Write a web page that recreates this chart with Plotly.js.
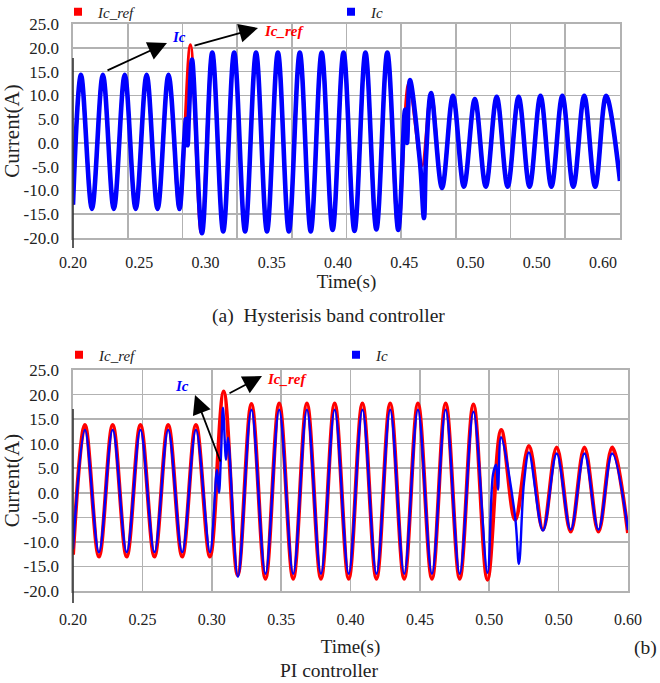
<!DOCTYPE html>
<html><head><meta charset="utf-8">
<script src="https://cdn.plot.ly/plotly-3.0.1.min.js"></script>
<style>html,body{margin:0;padding:0;background:#fff}#chart{width:660px;height:683px}</style>
</head><body><div id="chart"></div>
<script>
// ---------- data ----------
// (a) Hysteresis band controller
const hystRefTime = [0.2000,0.2073,0.2173,0.2273,0.2373,0.2473,0.2573,0.2673,0.2773,0.2873,0.2973,0.3073,0.3173,0.3273,0.3373,0.3473,0.3573,0.3673,0.3773,0.3873,0.3973,0.4073,0.4173,0.4273,0.4373,0.4473,0.4573,0.4673,0.4773,0.4873,0.4973,0.5070,0.5190,0.5273,0.5373,0.5473,0.5573,0.5673,0.5773,0.5873,0.5973,0.6073,0.6173,0.6273,0.6373,0.6473,0.6573,0.6673,0.6773,0.6873,0.7000];
const hystRefValue = [-13.0,14.3,-13.9,14.3,-13.9,14.3,-13.9,14.3,-13.9,14.3,-13.9,20.6,-19.0,19.0,-18.6,19.0,-18.6,19.0,-18.6,19.0,-18.6,19.0,-18.6,19.0,-18.3,19.0,-18.5,19.0,-18.2,19.0,-18.3,12.5,-4.8,10.5,-9.5,9.9,-9.2,9.2,-9.2,9.7,-9.2,9.7,-9.2,9.9,-9.2,9.9,-9.2,9.9,-9.2,9.9,-8.0];
const hystIcTime = [0.2000,0.2073,0.2173,0.2273,0.2373,0.2473,0.2573,0.2673,0.2773,0.2873,0.2973,0.3015,0.3033,0.3047,0.3060,0.3088,0.3179,0.3273,0.3373,0.3473,0.3573,0.3673,0.3773,0.3873,0.3973,0.4073,0.4173,0.4273,0.4373,0.4473,0.4573,0.4673,0.4773,0.4873,0.4973,0.5035,0.5053,0.5080,0.5172,0.5208,0.5227,0.5273,0.5373,0.5473,0.5573,0.5673,0.5773,0.5873,0.5973,0.6073,0.6173,0.6273,0.6373,0.6473,0.6573,0.6673,0.6773,0.6873,0.7000];
const hystIcValue = [-13.0,14.3,-13.9,14.3,-13.9,14.3,-13.9,14.3,-13.9,14.3,-13.9,0.0,5.0,-0.5,6.0,17.5,-19.0,19.0,-18.6,19.0,-18.6,19.0,-18.6,19.0,-18.6,19.0,-18.6,19.0,-18.3,19.0,-18.5,19.0,-18.2,19.0,-18.3,7.0,0.0,13.2,-4.2,-15.8,-3.0,10.5,-9.5,9.9,-9.2,9.2,-9.2,9.7,-9.2,9.7,-9.2,9.9,-9.2,9.9,-9.2,9.9,-9.2,9.9,-8.0];

// (b) PI controller
const piRefTime = [0.2000,0.2086,0.2187,0.2286,0.2387,0.2486,0.2587,0.2686,0.2787,0.2886,0.2987,0.3086,0.3187,0.3286,0.3387,0.3486,0.3587,0.3686,0.3787,0.3886,0.3987,0.4086,0.4187,0.4286,0.4387,0.4486,0.4587,0.4686,0.4787,0.4886,0.4987,0.5086,0.5187,0.5286,0.5387,0.5486,0.5587,0.5686,0.5787,0.5886,0.6000];
const piRefValue = [-12.6,13.8,-13.0,13.8,-13.0,13.8,-13.0,13.8,-13.0,13.8,-13.0,20.6,-16.8,18.1,-17.5,18.2,-17.5,18.2,-17.5,18.2,-17.5,18.2,-17.5,18.2,-17.5,18.2,-17.5,18.2,-17.5,18.0,-17.7,12.8,-5.5,9.5,-7.5,9.2,-7.9,9.2,-7.9,9.2,-8.2];
const piIcTime = [0.2000,0.2086,0.2187,0.2286,0.2387,0.2486,0.2587,0.2686,0.2787,0.2886,0.2987,0.3038,0.3052,0.3067,0.3081,0.3103,0.3117,0.3189,0.3286,0.3387,0.3486,0.3587,0.3686,0.3787,0.3886,0.3987,0.4086,0.4187,0.4286,0.4387,0.4486,0.4587,0.4686,0.4787,0.4886,0.4987,0.5027,0.5049,0.5063,0.5085,0.5186,0.5214,0.5250,0.5286,0.5387,0.5486,0.5587,0.5686,0.5787,0.5886,0.6000];
const piIcValue = [-11.5,12.8,-12.1,12.8,-12.1,12.8,-12.1,12.8,-12.1,12.8,-12.1,4.7,0.0,8.0,17.3,6.7,11.2,-17.1,16.9,-16.5,16.9,-16.5,16.9,-16.5,16.9,-16.5,16.9,-16.5,16.9,-16.5,16.9,-16.5,16.9,-16.5,16.5,-16.3,3.7,5.7,0.6,11.3,-4.8,-14.5,2.0,8.2,-7.7,8.0,-7.5,8.0,-7.5,8.0,-7.6];

// tick labels
const yTickVals = [-20,-15,-10,-5,0,5,10,15,20,25];
const yTickText = ['-20.0','-15.0','-10.0','-5.0','0.0','5.0','10.0','15.0','20.0','25.0'];
const xTickVals = [0.20,0.25,0.30,0.35,0.40,0.45,0.50,0.55,0.60];
const xTickText = ['0.20','0.25','0.30','0.35','0.40','0.45','0.50','0.50','0.60'];

// ---------- layout helpers ----------
const W = 660, H = 683;
const px = v => v / W;
const py = v => 1 - v / H;
const FONT = 'Liberation Serif';
const GRID = '#b2b2b2';
const RED = '#ff0000', BLUE = '#0000ff';
const INK = '#222';

const traces = [
  {x: hystRefTime, y: hystRefValue, xaxis: 'x', yaxis: 'y', type: 'scatter', mode: 'lines',
   line: {color: RED, width: 3.2, shape: 'spline', smoothing: 1}, name: 'Ic_ref', showlegend: false},
  {x: hystIcTime, y: hystIcValue, xaxis: 'x', yaxis: 'y', type: 'scatter', mode: 'lines',
   line: {color: BLUE, width: 4.6, shape: 'spline', smoothing: 1}, name: 'Ic', showlegend: false},
  {x: piRefTime, y: piRefValue, xaxis: 'x2', yaxis: 'y2', type: 'scatter', mode: 'lines',
   line: {color: RED, width: 4, shape: 'spline', smoothing: 1}, name: 'Ic_ref', showlegend: false},
  {x: piIcTime, y: piIcValue, xaxis: 'x2', yaxis: 'y2', type: 'scatter', mode: 'lines',
   line: {color: BLUE, width: 2.4, shape: 'spline', smoothing: 1}, name: 'Ic', showlegend: false},
  // legend entries
  {x: [null], y: [null], xaxis: 'x', yaxis: 'y', mode: 'markers', marker: {symbol: 'square', size: 8, color: RED},
   name: 'Ic_ref', legend: 'legend'},
  {x: [null], y: [null], xaxis: 'x', yaxis: 'y', mode: 'markers', marker: {symbol: 'square', size: 8, color: BLUE},
   name: 'Ic', legend: 'legend'},
  {x: [null], y: [null], xaxis: 'x2', yaxis: 'y2', mode: 'markers', marker: {symbol: 'square', size: 8, color: RED},
   name: 'Ic_ref', legend: 'legend2'},
  {x: [null], y: [null], xaxis: 'x2', yaxis: 'y2', mode: 'markers', marker: {symbol: 'square', size: 8, color: BLUE},
   name: 'Ic', legend: 'legend2'},
  // carrier for the label axis of plot (a)
  {x: [null], y: [null], xaxis: 'x3', yaxis: 'y', mode: 'markers', showlegend: false, hoverinfo: 'skip'}
];

const gridAxis = {
  showgrid: true, gridcolor: GRID, gridwidth: 1.6, zeroline: false,
  showline: true, mirror: true, linecolor: GRID, linewidth: 1.6, ticks: '', automargin: false
};
const yCommon = Object.assign({}, gridAxis, {
  range: [-20, 25], tickmode: 'array', tickvals: yTickVals, ticktext: yTickText,
  tickfont: {family: FONT, size: 17, color: INK}, ticklabelstandoff: 9,
  title: {text: 'Current(A)', font: {family: FONT, size: 21, color: INK}, standoff: 0}
});
const legendCommon = {
  orientation: 'h', xanchor: 'left', yanchor: 'middle', bgcolor: 'rgba(0,0,0,0)',
  font: {family: FONT, size: 15, color: INK, style: 'italic'},
  itemwidth: 30, entrywidthmode: 'pixels'
};
const arrowCommon = {xref: 'paper', yref: 'paper', axref: 'pixel', ayref: 'pixel', text: '', showarrow: true,
  arrowhead: 2, arrowsize: 2.1, arrowwidth: 1.8, arrowcolor: '#000', standoff: 0, startstandoff: 0};
const label = (x, y, text, color, size) => ({xref: 'paper', yref: 'paper', x: px(x), y: py(y),
  xanchor: 'center', yanchor: 'middle', text: text, showarrow: false,
  font: {family: FONT, size: size, color: color}});

const layout = {
  width: W, height: H, margin: {l: 0, r: 0, t: 0, b: 0, autoexpand: false},
  paper_bgcolor: '#fff', plot_bgcolor: '#fff',
  font: {family: FONT, color: INK},
  showlegend: true,
  xaxis: Object.assign({}, gridAxis, {domain: [px(73), px(620)], anchor: 'y', range: [0.2, 0.7],
    tick0: 0.2, dtick: 0.05, showticklabels: false}),
  xaxis3: {overlaying: 'x', anchor: 'y', side: 'bottom', range: [0.2, 0.2 + 0.4 * 547 / 530],
    tickmode: 'array', tickvals: xTickVals, ticktext: xTickText, showgrid: false, zeroline: false,
    showline: false, ticks: '', ticklabelstandoff: 13, automargin: false,
    tickfont: {family: FONT, size: 16, color: INK},
    title: {text: 'Time(s)', font: {family: FONT, size: 19, color: INK}, standoff: 1}},
  yaxis: Object.assign({}, yCommon, {domain: [py(238), py(24)], anchor: 'x'}),
  xaxis2: Object.assign({}, gridAxis, {domain: [px(73), px(628)], anchor: 'y2', range: [0.2, 0.6],
    tickmode: 'array', tickvals: xTickVals, ticktext: xTickText, ticklabelstandoff: 13,
    tickfont: {family: FONT, size: 16, color: INK},
    title: {text: 'Time(s)', font: {family: FONT, size: 19, color: INK}, standoff: 13}}),
  yaxis2: Object.assign({}, yCommon, {domain: [py(591), py(370)], anchor: 'x2'}),
  legend: Object.assign({}, legendCommon, {x: px(58), y: py(12), entrywidth: 228}),
  legend2: Object.assign({}, legendCommon, {x: px(59), y: py(355), entrywidth: 232}),
  shapes: [
    {type: 'line', xref: 'paper', yref: 'paper', x0: px(73), x1: px(73), y0: py(58), y1: py(248),
     line: {color: '#333', width: 1.6}},
    {type: 'line', xref: 'paper', yref: 'paper', x0: px(73), x1: px(73), y0: py(409), y1: py(603),
     line: {color: '#333', width: 1.6}}
  ],
  annotations: [
    Object.assign({}, arrowCommon, {x: px(167), y: py(43), ax: -61, ay: 28}),
    Object.assign({}, arrowCommon, {x: px(258), y: py(28), ax: -65, ay: 18}),
    Object.assign({}, arrowCommon, {x: px(195), y: py(395), ax: 26, ay: 68}),
    Object.assign({}, arrowCommon, {x: px(262), y: py(376), ax: -34, ay: 18}),
    label(179, 37, '<b><i>Ic</i></b>', BLUE, 15),
    label(284, 31, '<b><i>Ic_ref</i></b>', RED, 15),
    label(182, 386, '<b><i>Ic</i></b>', BLUE, 15),
    label(287, 379, '<b><i>Ic_ref</i></b>', RED, 15),
    label(328, 316, '(a)  Hysterisis band controller', INK, 19.5),
    Object.assign(label(659, 648, '(b)', INK, 19.5), {xanchor: 'right'}),
    label(329, 670, 'PI controller', INK, 19.5)
  ]
};

Plotly.newPlot('chart', traces, layout, {displayModeBar: false, staticPlot: true});
</script></body></html>
